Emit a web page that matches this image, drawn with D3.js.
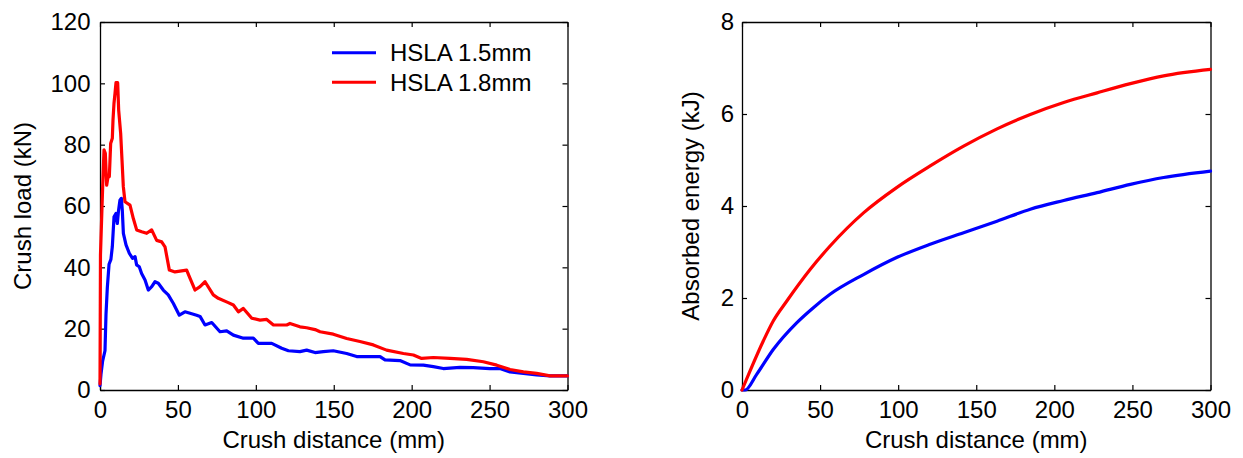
<!DOCTYPE html>
<html><head><meta charset="utf-8">
<script src="https://cdn.jsdelivr.net/npm/d3@7"></script>
<style>
body{margin:0;background:#fff;}
text{font-family:"Liberation Sans",Arial,sans-serif;fill:#000;}
</style></head>
<body>
<svg id="chart" width="1243" height="458"></svg>
<script>
// ---- data ----
const seriesNames = ["HSLA 1.5mm", "HSLA 1.8mm"];
const xTicks = [0, 50, 100, 150, 200, 250, 300];
const loadTicks = [0, 20, 40, 60, 80, 100, 120];
const energyTicks = [0, 2, 4, 6, 8];

// crush load (mm, kN)
const load15 = [[0,1.4],[0.64,5.2],[1.71,9.5],[3.2,12.8],[3.85,24.7],[4.7,33.4],[5.8,41.0],[7.0,42.6],[7.9,46.7],[9.0,56.5],[10.3,57.6],[11.1,54.3],[11.8,58.1],[12.8,61.9],[13.7,62.5],[14.3,58.7],[15.0,51.1],[16.7,47.3],[18.8,44.6],[20.9,42.9],[22.5,43.5],[23.5,40.8],[25.2,40.2],[26.7,38.0],[28.9,35.9],[31.0,32.6],[33.2,33.7],[35.3,35.3],[37.4,34.8],[40.6,32.6],[43.8,31.0],[47.1,28.2],[50.9,24.4],[54.5,25.5],[57.8,25.0],[62.0,24.4],[64.2,24.0],[67.4,21.2],[71.7,22.0],[77.0,19.0],[81.3,19.3],[85.6,17.9],[92.0,16.9],[98.4,16.9],[101.6,15.2],[110.2,15.2],[116.6,13.6],[120.9,12.8],[128.3,12.5],[132.6,13.0],[138.0,12.2],[143.3,12.5],[149.7,12.8],[158.3,11.9],[164.7,10.9],[179.7,10.9],[182.9,9.8],[192.5,9.6],[199.0,8.2],[207.5,8.1],[213.9,7.6],[220.3,7.0],[231.0,7.4],[239.5,7.3],[250.2,7.0],[256.6,7.0],[263.1,5.9],[271.7,5.4],[280.2,4.9],[288.8,4.6],[300,4.6]];
const load18 = [[0,2],[0.3,44],[1.71,66.3],[2.57,78.3],[3.42,77.2],[4.28,66.8],[5.35,70.1],[5.99,69.6],[6.84,80.4],[7.91,82.1],[8.34,88.0],[8.98,93.5],[9.62,96.7],[10.27,100.2],[11.34,100.2],[11.98,91.3],[13.26,83.7],[14.12,75.0],[14.97,66.3],[16.04,61.4],[19.25,60.3],[21.39,55.9],[23.53,52.2],[26.74,51.6],[29.95,51.1],[33.16,52.2],[36.37,48.8],[39.58,48.3],[41.71,46.7],[44.5,39.1],[48.1,38.5],[55.6,39.1],[57.8,36.4],[61.0,32.6],[64.2,33.7],[67.4,35.3],[72.7,31.0],[75.9,29.9],[82.3,28.5],[85.6,27.7],[88.8,25.5],[92.0,26.6],[97.4,23.4],[102.7,22.8],[107.0,23.0],[111.3,21.2],[119.8,21.2],[121.9,21.7],[128.3,20.6],[132.6,20.3],[138.0,19.7],[141.2,19.0],[149.7,18.2],[158.3,16.8],[166.8,15.8],[175.4,14.7],[183.9,13.0],[194.7,11.9],[201.1,11.4],[206.4,10.3],[213.9,10.6],[224.6,10.3],[235.3,10.0],[246.0,9.2],[254.6,8.1],[263.1,6.7],[271.7,5.9],[280.2,5.4],[288.8,4.6],[300,4.6]];

// absorbed energy (mm, kJ)
const energy15 = [[0,0],[2,0],[9.4,0.34],[20,0.88],[35,1.46],[45.7,1.79],[56.4,2.08],[77.8,2.51],[99,2.88],[120.5,3.17],[141.9,3.42],[163.3,3.67],[184.6,3.93],[206,4.12],[227.4,4.29],[248.7,4.47],[270,4.62],[300,4.76]];
const energy18 = [[0,0],[5.1,0.41],[13.7,1.07],[20,1.5],[28.6,1.93],[43.6,2.62],[56.4,3.13],[77.8,3.85],[99,4.4],[120.5,4.87],[141.9,5.3],[163,5.67],[184.6,5.99],[206,6.25],[227.4,6.46],[248.7,6.66],[270,6.83],[300,6.97]];

const colors = ["#0000ff", "#ff0000"];

const svg = d3.select("#chart");
const FS = 24;

function panel(opts) {
  const {x0, x1, y0, y1, yMax, yTicks, yLabel, series, curve, ylabX, yPad} = opts;
  const x = d3.scaleLinear().domain([0, 300]).range([x0, x1]);
  const y = d3.scaleLinear().domain([0, yMax]).range([y1, y0]);
  const g = svg.append("g");

  const bottom = g.append("g").attr("transform", `translate(0,${y1})`)
    .call(d3.axisBottom(x).tickValues(xTicks).tickSizeInner(-5).tickSizeOuter(0).tickPadding(11));
  const top = g.append("g").attr("transform", `translate(0,${y0})`)
    .call(d3.axisTop(x).tickValues(xTicks).tickSizeInner(-5).tickSizeOuter(0).tickFormat(""));
  const left = g.append("g").attr("transform", `translate(${x0},0)`)
    .call(d3.axisLeft(y).tickValues(yTicks).tickSizeInner(-5).tickSizeOuter(0).tickPadding(yPad));
  const right = g.append("g").attr("transform", `translate(${x1},0)`)
    .call(d3.axisRight(y).tickValues(yTicks).tickSizeInner(-5).tickSizeOuter(0).tickFormat(""));
  [bottom, top, left, right].forEach(a => {
    a.selectAll("path").attr("stroke", "#000").attr("stroke-width", 1.3);
    a.selectAll("line").attr("stroke", "#000").attr("stroke-width", 1.2);
    a.selectAll("text").attr("font-size", FS).attr("font-family", "Liberation Sans, Arial, sans-serif").attr("fill", "#000");
  });

  const line = d3.line().x(d => x(d[0])).y(d => y(d[1])).curve(curve);
  series.forEach((s, i) => {
    g.append("path").datum(s).attr("d", line)
      .attr("fill", "none").attr("stroke", colors[i]).attr("stroke-width", 3.2)
      .attr("stroke-linejoin", "round").attr("stroke-linecap", "round");
  });

  g.append("text").attr("x", (x0 + x1) / 2).attr("y", 448)
    .attr("text-anchor", "middle").attr("font-size", FS).text("Crush distance (mm)");
  g.append("text").attr("transform", `translate(${ylabX},${(y0 + y1) / 2}) rotate(-90)`)
    .attr("text-anchor", "middle").attr("font-size", FS).text(yLabel);
  return {x, y, g};
}

const p1 = panel({x0: 100, x1: 567.5, y0: 22, y1: 390, yMax: 120, yTicks: loadTicks,
  yLabel: "Crush load (kN)", series: [load15, load18], curve: d3.curveLinear, ylabX: 31, yPad: 9.5});
panel({x0: 742, x1: 1210.5, y0: 22, y1: 390, yMax: 8, yTicks: energyTicks,
  yLabel: "Absorbed energy (kJ)", series: [energy15, energy18], curve: d3.curveMonotoneX, ylabX: 699, yPad: 8});

// legend
const leg = p1.g.append("g");
seriesNames.forEach((name, i) => {
  const yy = 52.7 + i * 29.6;
  leg.append("line").attr("x1", 332).attr("x2", 376).attr("y1", yy).attr("y2", yy)
    .attr("stroke", colors[i]).attr("stroke-width", 3);
  leg.append("text").attr("x", 390).attr("y", yy).attr("dy", "0.35em")
    .attr("font-size", FS).text(name);
});
</script>
</body></html>
